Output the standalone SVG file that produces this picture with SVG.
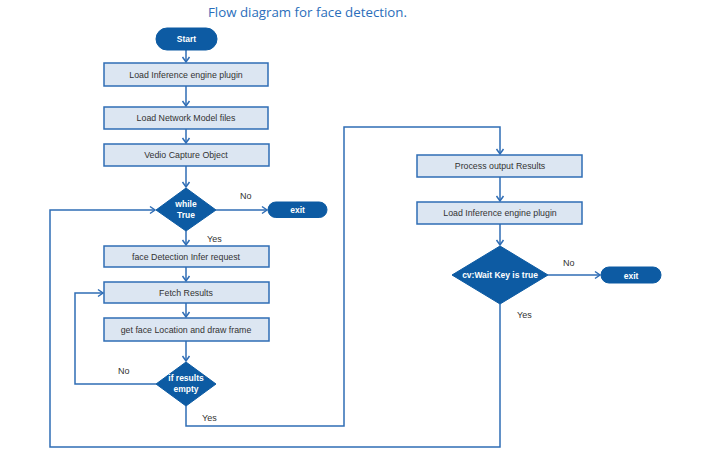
<svg xmlns="http://www.w3.org/2000/svg" width="722" height="462" viewBox="0 0 722 462">
<defs>
<style>
.box{fill:#dce6f2;stroke:#2f6db5;stroke-width:1.5}
.dark{fill:#0d5ba3;stroke:#0d5ba3;stroke-width:1}
.bt{font-family:"Liberation Sans",Arial,sans-serif;font-size:8.8px;fill:#333;text-anchor:middle}
.wt{font-family:"Liberation Sans",Arial,sans-serif;font-size:8.5px;font-weight:bold;fill:#fff;text-anchor:middle}
.lbl{font-family:"Liberation Sans",Arial,sans-serif;font-size:9px;fill:#333}
.ln{fill:none;stroke:#2f6db5;stroke-width:1.5}
</style>
<marker id="arr" markerUnits="userSpaceOnUse" markerWidth="10" markerHeight="10" refX="7" refY="5" orient="auto">
<polyline points="2,1.5 7,5 2,8.5" fill="none" stroke="#2f6db5" stroke-width="1.5"/>
</marker>
</defs>
<rect width="722" height="462" fill="#fff"/>
<text x="208" y="17" font-family="'Open Sans','Noto Sans',sans-serif" font-size="13" fill="#2a6ebb" textLength="199" lengthAdjust="spacingAndGlyphs">Flow diagram for face detection.</text>

<g id="connectors">
<path class="ln" d="M186,50 V62" marker-end="url(#arr)"/>
<path class="ln" d="M186,86 V106" marker-end="url(#arr)"/>
<path class="ln" d="M186,129 V143" marker-end="url(#arr)"/>
<path class="ln" d="M186,166 V187" marker-end="url(#arr)"/>
<path class="ln" d="M216,210 H267" marker-end="url(#arr)"/>
<path class="ln" d="M186,231 V245" marker-end="url(#arr)"/>
<path class="ln" d="M186,267 V281" marker-end="url(#arr)"/>
<path class="ln" d="M186,303 V317" marker-end="url(#arr)"/>
<path class="ln" d="M186,341 V361" marker-end="url(#arr)"/>
<path class="ln" d="M156,384 H75 V293 H103" marker-end="url(#arr)"/>
<path class="ln" d="M186,406 V426 H344 V127 H500 V154" marker-end="url(#arr)"/>
<path class="ln" d="M500,177 V201" marker-end="url(#arr)"/>
<path class="ln" d="M500,224 V245" marker-end="url(#arr)"/>
<path class="ln" d="M548,275 H600" marker-end="url(#arr)"/>
<path class="ln" d="M500,304 V447 H50 V210 H155" marker-end="url(#arr)"/>
<text class="lbl" x="240" y="199">No</text>
<text class="lbl" x="207" y="242">Yes</text>
<text class="lbl" x="118" y="374">No</text>
<text class="lbl" x="202" y="421">Yes</text>
<text class="lbl" x="563" y="266">No</text>
<text class="lbl" x="517" y="318">Yes</text>
</g>

<g id="start"><rect class="dark" x="156" y="28" width="61" height="22" rx="11"/><text class="wt" x="186.5" y="42">Start</text></g>
<g id="load-plugin"><rect class="box" x="104" y="63" width="164" height="23"/><text class="bt" x="186" y="77.5">Load Inference engine plugin</text></g>
<g id="load-model"><rect class="box" x="104" y="107" width="164" height="22"/><text class="bt" x="186" y="121">Load Network Model files</text></g>
<g id="capture"><rect class="box" x="104" y="144" width="165" height="22"/><text class="bt" x="186" y="158">Vedio Capture Object</text></g>
<g id="while-true"><polygon class="dark" points="186,188 216,210 186,231 156,210"/><text class="wt" x="186" y="207">while</text><text class="wt" x="186" y="218">True</text></g>
<g id="exit1"><rect class="dark" x="268" y="202" width="59" height="15.5" rx="7.75"/><text class="wt" x="297.5" y="213">exit</text></g>
<g id="infer"><rect class="box" x="104" y="246" width="165" height="21"/><text class="bt" x="186" y="259.5">face Detection Infer request</text></g>
<g id="fetch"><rect class="box" x="104" y="282" width="165" height="21"/><text class="bt" x="186" y="296">Fetch Results</text></g>
<g id="draw"><rect class="box" x="104" y="318" width="165" height="23"/><text class="bt" x="186" y="332.5">get face Location and draw frame</text></g>
<g id="if-empty"><polygon class="dark" points="186,362 216,384 186,406 156,384"/><text class="wt" x="186" y="381">if results</text><text class="wt" x="186" y="392">empty</text></g>
<g id="process"><rect class="box" x="417" y="155" width="165" height="22"/><text class="bt" x="500" y="169">Process output Results</text></g>
<g id="load-plugin2"><rect class="box" x="417" y="202" width="165" height="22"/><text class="bt" x="500" y="216">Load Inference engine plugin</text></g>
<g id="waitkey"><polygon class="dark" points="500,246 548,275 500,304 452,275"/><text class="wt" x="500" y="278">cv:Wait Key is true</text></g>
<g id="exit2"><rect class="dark" x="601" y="267" width="60" height="16" rx="8"/><text class="wt" x="631" y="278.5">exit</text></g>
</svg>
